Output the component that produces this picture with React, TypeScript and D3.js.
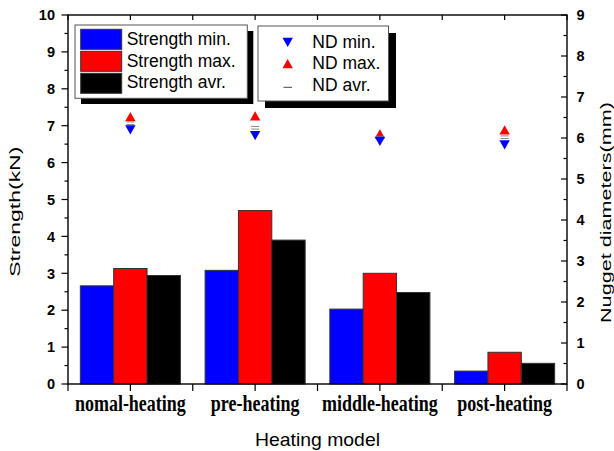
import React from "react";
import * as d3 from "d3";

const categories = ["nomal-heating", "pre-heating", "middle-heating", "post-heating"];
const strengthMin = [2.66, 3.08, 2.03, 0.35];
const strengthMax = [3.13, 4.7, 3.0, 0.86];
const strengthAvr = [2.94, 3.9, 2.48, 0.56];
const ndMin = [6.2, 6.06, 5.92, 5.83];
const ndMax = [6.52, 6.54, 6.1, 6.2];
const ndAvr = [6.36, 6.25, 6.0, 6.02];
const leftTicks = [0, 1, 2, 3, 4, 5, 6, 7, 8, 9, 10];
const rightTicks = [0, 1, 2, 3, 4, 5, 6, 7, 8, 9];
const strengthLabels = ["Strength min.", "Strength max.", "Strength avr."];

const W = 614, H = 451;
const L = 68, R = 567, T = 15, B = 384;

export default function App() {
  const x = d3.scaleBand<string>().domain(categories).range([L, R]).padding(0);
  const yL = d3.scaleLinear().domain([0, 10]).range([B, T]);
  const yR = d3.scaleLinear().domain([0, 9]).range([B, T]);
  const inner = d3.scaleBand<number>().domain([0, 1, 2]).range([0, x.bandwidth()]).paddingOuter(0.37).paddingInner(0);
  const series = [
    { vals: strengthMin, color: "#0000ff" },
    { vals: strengthMax, color: "#ff0000" },
    { vals: strengthAvr, color: "#000000" },
  ];
  const bw = x.bandwidth();
  const xTicks: number[] = [];
  categories.forEach((c) => {
    xTicks.push(x(c)!);
    xTicks.push(x(c)! + bw / 2);
  });
  xTicks.push(R);
  const leftMinor = d3.range(0, 10.01, 0.5);
  const rightMinor = d3.range(0, 9.01, 0.5);
  const tri = (cx: number, cy: number, up: boolean) => {
    const w = 5.2, h = 4.6;
    return up
      ? `M${cx - w},${cy + h}L${cx + w},${cy + h}L${cx},${cy - h}Z`
      : `M${cx - w},${cy - h}L${cx + w},${cy - h}L${cx},${cy + h}Z`;
  };
  const sans = "'Liberation Sans', Arial, sans-serif";
  const serif = "'Liberation Serif', 'Times New Roman', serif";
  return (
    <svg width={W} height={H} style={{ position: "absolute", left: 0, top: 0, background: "#fff" }}>
      <rect x={0} y={0} width={W} height={H} fill="#fff" />
      {/* bars */}
      {categories.map((c, i) =>
        series.map((s, j) => (
          <rect
            key={c + j}
            x={x(c)! + inner(j)!}
            y={yL(s.vals[i])}
            width={inner.bandwidth()}
            height={B - yL(s.vals[i])}
            fill={s.color}
            stroke="#333"
            strokeWidth={1}
          />
        ))
      )}
      {/* ND markers */}
      {categories.map((c, i) => {
        const cx = x(c)! + bw / 2;
        return (
          <g key={"nd" + c}>
            <path d={tri(cx, yR(ndMax[i]), true)} fill="#ff0000" />
            <line x1={cx - 4} x2={cx + 4} y1={yR(ndAvr[i]) - 1.3} y2={yR(ndAvr[i]) - 1.3} stroke="#888" strokeWidth={1} />
            <line x1={cx - 4} x2={cx + 4} y1={yR(ndAvr[i]) + 1.3} y2={yR(ndAvr[i]) + 1.3} stroke="#888" strokeWidth={1} />
            <path d={tri(cx, yR(ndMin[i]), false)} fill="#0000ff" />
          </g>
        );
      })}
      {/* frame */}
      <rect x={L} y={T} width={R - L} height={B - T} fill="none" stroke="#000" strokeWidth={1.4} />
      {/* bottom / top ticks */}
      {xTicks.map((t, i) => (
        <g key={"xt" + i}>
          <line x1={t} x2={t} y1={B} y2={B + 7} stroke="#000" strokeWidth={1.2} />
          <line x1={t} x2={t} y1={T} y2={T + 5} stroke="#000" strokeWidth={1.2} />
        </g>
      ))}
      {/* left ticks */}
      {leftMinor.map((v) => (
        <line key={"lt" + v} x1={L} x2={L - (v % 1 === 0 ? 6.5 : 3.5)} y1={yL(v)} y2={yL(v)} stroke="#000" strokeWidth={1.2} />
      ))}
      {leftTicks.map((v) => (
        <text key={"ll" + v} x={55} y={yL(v)} dy="0.36em" textAnchor="end" fontFamily={sans} fontWeight="bold" fontSize={14.5}>
          {v}
        </text>
      ))}
      {/* right ticks */}
      {rightMinor.map((v) => (
        <line key={"rt" + v} x1={R} x2={R - (v % 1 === 0 ? 6 : 3.5)} y1={yR(v)} y2={yR(v)} stroke="#000" strokeWidth={1.2} />
      ))}
      {rightTicks.map((v) => (
        <text key={"rl" + v} x={576.5} y={yR(v)} dy="0.36em" textAnchor="start" fontFamily={sans} fontWeight="bold" fontSize={14.5}>
          {v}
        </text>
      ))}
      {/* category labels */}
      {categories.map((c) => (
        <text
          key={"cl" + c}
          transform={`translate(${x(c)! + bw / 2},410.7) scale(1,1.25)`}
          textAnchor="middle"
          fontFamily={serif}
          fontWeight="bold"
          fontSize={18}
        >
          {c}
        </text>
      ))}
      {/* axis titles */}
      <text x={317.5} y={446} textAnchor="middle" fontFamily={sans} fontSize={19} textLength={125} lengthAdjust="spacingAndGlyphs">
        Heating model
      </text>
      <text transform={`translate(20,211.7) rotate(-90)`} textAnchor="middle" fontFamily={sans} fontSize={15} textLength={130} lengthAdjust="spacingAndGlyphs">
        Strength(kN)
      </text>
      <text transform={`translate(610.5,212.5) rotate(-90)`} textAnchor="middle" fontFamily={sans} fontSize={15.5} textLength={221} lengthAdjust="spacingAndGlyphs">
        Nugget diameters(mm)
      </text>
      {/* legend 1 */}
      <rect x={81} y={31} width={172.3} height={73} fill="#000" />
      <rect x={75} y={25} width={172.3} height={73.3} fill="#fff" stroke="#555" strokeWidth={1} />
      {series.map((s, j) => (
        <g key={"lg1" + j}>
          <rect x={80.7} y={29.3 + j * 22} width={41} height={20} fill={s.color} stroke="#333" strokeWidth={1} />
          <text x={126.7} y={45 + j * 21.6} fontFamily={sans} fontSize={17.5}>
            {strengthLabels[j]}
          </text>
        </g>
      ))}
      {/* legend 2 */}
      <rect x={265} y={33} width={131} height={75} fill="#000" />
      <rect x={258} y={26} width={130.5} height={75} fill="#fff" stroke="#555" strokeWidth={1} />
      <path d={tri(287.7, 42.3, false)} fill="#0000ff" />
      <path d={tri(287.7, 63.7, true)} fill="#ff0000" />
      <line x1={283.5} x2={292} y1={87.3} y2={87.3} stroke="#444" strokeWidth={1} />
      <text x={312.3} y={48.3} fontFamily={sans} fontSize={17.5}>ND min.</text>
      <text x={312.3} y={69.3} fontFamily={sans} fontSize={17.5}>ND max.</text>
      <text x={312.3} y={90.7} fontFamily={sans} fontSize={17.5}>ND avr.</text>
    </svg>
  );
}
